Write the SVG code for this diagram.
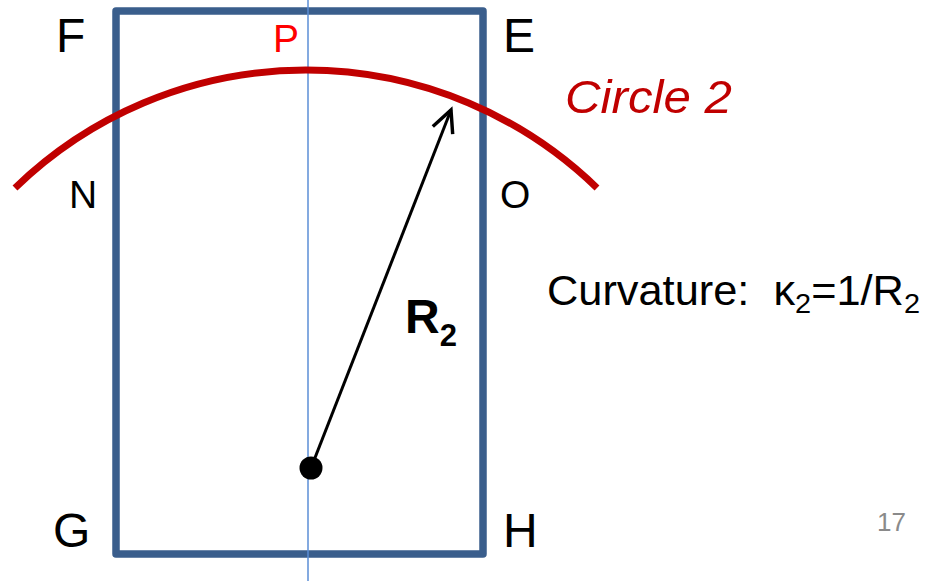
<svg xmlns="http://www.w3.org/2000/svg" width="941" height="581" viewBox="0 0 941 581">
<style>
.lbl{font-family:"Liberation Sans",Arial,sans-serif;font-size:48px;fill:#000}
.sl{font-family:"Liberation Sans",Arial,sans-serif;font-size:39px;fill:#000}
.box{fill:none;stroke:#3A5E8C;stroke-width:7.5;stroke-linejoin:round}
.axis{stroke:#5B8ED6;stroke-width:1.5}
.arc{fill:none;stroke:#C00000;stroke-width:7}
.rad{stroke:#000;stroke-width:3;fill:none}
</style>
<defs>
<marker id="open" markerUnits="userSpaceOnUse" markerWidth="30" markerHeight="30" viewBox="-22 -12 26 24" refX="0" refY="0" orient="auto">
<path d="M-19,-9.5 L0,0 L-19,9" fill="none" stroke="#000" stroke-width="3" stroke-linejoin="miter"/>
</marker>
</defs>
<rect id="node-box" class="box" x="116" y="11" width="367" height="543"/>
<g id="node-axis"><line class="axis" x1="308" y1="0" x2="308" y2="581"/></g>
<g id="node-circle2"><path class="arc" d="M15,188 A418,418 0 0 1 597,188"/></g>
<g id="connectors">
<line class="rad" x1="311" y1="468" x2="451" y2="110" marker-end="url(#open)"/>
</g>
<g id="node-center"><circle cx="311" cy="468" r="11.5" fill="#000"/></g>
<g id="node-F"><text class="lbl" x="56" y="52">F</text></g>
<g id="node-E"><text class="lbl" x="503" y="52">E</text></g>
<g id="node-G"><text class="lbl" x="53" y="547">G</text></g>
<g id="node-H"><text class="lbl" x="503" y="547">H</text></g>
<g id="node-N"><text class="sl" x="69" y="208">N</text></g>
<g id="node-O"><text class="sl" x="500" y="208">O</text></g>
<g id="node-P"><text class="sl" x="273" y="52" style="fill:#FF0000">P</text></g>
<g id="node-label-circle"><text x="565" y="113" font-family="Liberation Sans, Arial, sans-serif" font-style="italic" font-size="47" fill="#C00000" textLength="167" lengthAdjust="spacingAndGlyphs">Circle 2</text></g>
<g id="node-R2"><text x="405" y="333" font-family="Liberation Sans, Arial, sans-serif" font-weight="bold" font-size="48" fill="#000">R<tspan font-size="31" dy="13">2</tspan></text></g>
<g id="node-curvature"><text x="547" y="305" font-family="Liberation Sans, Arial, sans-serif" font-size="42" fill="#000" textLength="373" lengthAdjust="spacingAndGlyphs">Curvature:&#160; κ<tspan font-size="28" dy="8">2</tspan><tspan dy="-8">=1/R</tspan><tspan font-size="28" dy="8">2</tspan></text></g>
<g id="node-page"><text x="877" y="531" font-family="Liberation Sans, Arial, sans-serif" font-size="26" fill="#8A8A8A">17</text></g>
</svg>
